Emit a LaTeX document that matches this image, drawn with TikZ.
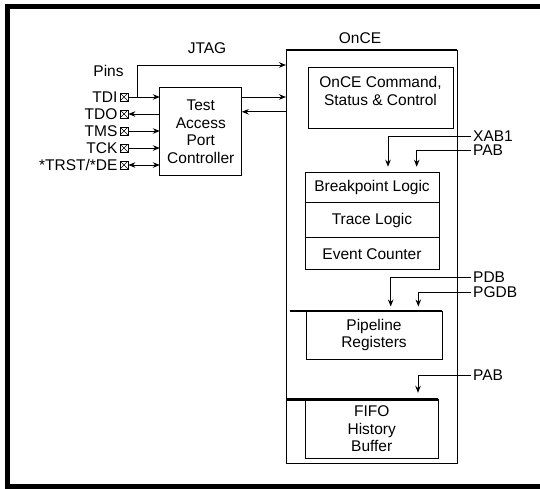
\documentclass[tikz,border=0pt]{standalone}
\usepackage{fontspec}
\setmainfont{Liberation Sans}
\usetikzlibrary{positioning,arrows.meta}

\tikzset{
  blk/.style={draw, line width=0.8pt, inner sep=0pt, outer sep=0pt, align=center},
  pinbox/.style={draw, line width=0.7pt, minimum size=8pt, inner sep=0pt,
    path picture={\draw[line width=0.6pt]
      (path picture bounding box.north west) -- (path picture bounding box.south east)
      (path picture bounding box.north east) -- (path picture bounding box.south west);}},
  sig/.style={line width=0.9pt},
  bar/.style={line width=2.5pt},
  siglbl/.style={anchor=west, inner sep=0pt},
}

\begin{document}
\begin{tikzpicture}[x=1pt, y=-1pt, >={Stealth[length=7pt,width=5.5pt]},
    font=\fontsize{15.5}{17.5}\selectfont]
\useasboundingbox (0,0) rectangle (540,488);
\draw[line width=5pt] (540,6.5) -- (7.5,6.5) -- (7.5,486.5) -- (540,486.5);

% OnCE block and its parts
\node[blk, minimum width=171pt, minimum height=413pt] (once) at (371.5,256.5) {};
\draw[bar] (once.north west) -- (once.north east);
\node (oncelbl) at (360,38) {OnCE};

\node[blk, minimum width=145pt, minimum height=61pt,
      label={[align=center, anchor=north, yshift=-6pt]north:OnCE Command,\\Status \& Control}]
      (cmd) at (380.5,97.5) {};

\node[blk, minimum width=134pt, minimum height=30pt] (brk) at (372,187.7) {Breakpoint Logic};
\node[blk, minimum width=134pt, minimum height=35pt, below=0pt of brk] (trc) {Trace Logic};
\node[blk, minimum width=134pt, minimum height=32pt, below=0pt of trc] (evt) {Event Counter};

\node[blk, minimum width=136pt, minimum height=48pt] (pipe) at (374,335) {Pipeline\\Registers};
\draw[bar] ([xshift=4pt]once.west |- pipe.north) -- (pipe.north east);

\node[blk, minimum width=133pt, minimum height=59pt] (fifo) at (371.7,428.8) {FIFO\\History\\Buffer};
\draw[bar] (once.west |- fifo.north) -- (fifo.north east);

% buses coming in from the right
\node[siglbl] (xab) at (473,136) {XAB1};
\node[siglbl] (pab) at (473,150) {PAB};
\node[siglbl] (pdb) at (473,277) {PDB};
\node[siglbl] (pgdb) at (473,292) {PGDB};
\node[siglbl] (pabb) at (473,375) {PAB};
\draw[sig,->] ([xshift=-2pt]xab.west) -| ([xshift=16pt,yshift=6pt]brk.north);
\draw[sig,->] ([xshift=-2pt]pab.west) -| ([xshift=44.7pt,yshift=6pt]brk.north);
\draw[sig,->] ([xshift=-2pt]pdb.west) -| ([xshift=16.7pt,yshift=4.5pt]pipe.north);
\draw[sig,->] ([xshift=-2pt]pgdb.west) -| ([xshift=44.3pt,yshift=4.5pt]pipe.north);
\draw[sig,->] ([xshift=-2pt]pabb.west) -| ([xshift=46.3pt,yshift=6.5pt]fifo.north);

% JTAG side
\node (jtag) at (207,48) {JTAG};
\node (pins) at (108.5,71) {Pins};
\node[blk, minimum width=82pt, minimum height=88pt] (tap) at (200.8,131.8) {Test\\Access\\Port\\Controller};

\node[pinbox] (tdi) at (124,97) {};
\node[pinbox] (tdo) at (124,114) {};
\node[pinbox] (tms) at (124,131) {};
\node[pinbox] (tck) at (124,148) {};
\node[pinbox] (trst) at (124,165) {};
\node[left=1pt of tdi, inner sep=1pt] (tdilbl) {TDI};
\node[left=1pt of tdo, inner sep=1pt] (tdolbl) {TDO};
\node[left=1pt of tms, inner sep=1pt] (tmslbl) {TMS};
\node[left=1pt of tck, inner sep=1pt] (tcklbl) {TCK};
\node[left=1pt of trst, inner sep=1pt] (trstlbl) {*TRST/*DE};

\draw[sig,->] (tdi) -- (tdi -| tap.west);
\draw[sig,<-] (tdo) -- (tdo -| tap.west);
\draw[sig,->] (tms) -- (tms -| tap.west);
\draw[sig,->] (tck) -- (tck -| tap.west);
\draw[sig,<->] (trst) -- (trst -| tap.west);

\coordinate (jt) at (137.7,97);
\draw[sig,->] (jt) |- ([yshift=-15pt]once.north west);
\draw[sig,->] (tap.east |- tdi) -- (once.west |- tdi);
\draw[sig,<-] ([yshift=-24pt]tap.north east) -- ([yshift=-24pt]tap.north east -| once.west);
\end{tikzpicture}
\end{document}
